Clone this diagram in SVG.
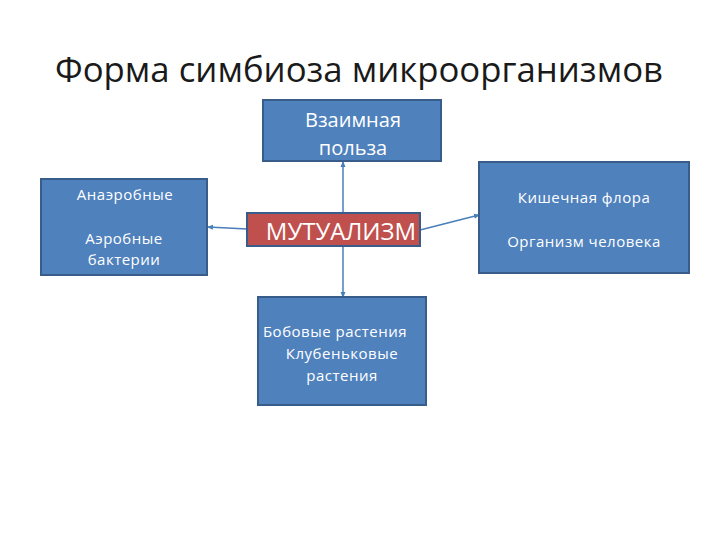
<svg xmlns="http://www.w3.org/2000/svg" width="720" height="540" viewBox="0 0 720 540">
<defs>
<style>
.box{fill:#4F81BD;stroke:#385D8A;stroke-width:2}
.red{fill:#C0504D;stroke:#385D8A;stroke-width:2}
.t{font-family:"Open Sans","Liberation Sans",sans-serif;fill:#fff;text-anchor:middle}
.s{font-size:15px;letter-spacing:0.5px}
.c{stroke:#4A7EBB;stroke-width:1.5;fill:none}
</style>
<marker id="a" markerWidth="6" markerHeight="6" refX="5" refY="3" orient="auto" markerUnits="userSpaceOnUse"><path d="M0,0.5 L6,3 L0,5.5 z" fill="#4A7EBB"/></marker>
</defs>
<rect width="720" height="540" fill="#fff"/>
<text x="359" y="82" font-family="'Open Sans','Liberation Sans',sans-serif" font-size="34" fill="#1a1a1a" text-anchor="middle" textLength="608" lengthAdjust="spacingAndGlyphs">Форма симбиоза микроорганизмов</text>
<g id="connectors">
<line class="c" x1="343" y1="213" x2="343" y2="162" marker-end="url(#a)"/>
<line class="c" x1="343" y1="246" x2="343" y2="297" marker-end="url(#a)"/>
<line class="c" x1="247" y1="229" x2="208" y2="227" marker-end="url(#a)"/>
<line class="c" x1="420" y1="230" x2="479" y2="215" marker-end="url(#a)"/>
</g>
<g id="benefit">
<rect class="box" x="263" y="100" width="178" height="61"/>
<text class="t" x="353" y="127" font-size="20">Взаимная</text>
<text class="t" x="353" y="155" font-size="20">польза</text>
</g>
<g id="bacteria">
<rect class="box" x="41" y="179" width="166" height="96"/>
<text class="t s" x="125" y="200">Анаэробные</text>
<text class="t s" x="124" y="244">Аэробные</text>
<text class="t s" x="124" y="265">бактерии</text>
</g>
<g id="mutualism">
<rect class="red" x="247" y="213" width="173" height="33"/>
<text class="t" x="341" y="240" font-size="24">МУТУАЛИЗМ</text>
</g>
<g id="flora">
<rect class="box" x="479" y="162" width="210" height="111"/>
<text class="t s" x="584" y="203">Кишечная флора</text>
<text class="t s" x="584" y="247">Организм человека</text>
</g>
<g id="plants">
<rect class="box" x="258" y="297" width="168" height="108"/>
<text class="t s" x="335" y="337">Бобовые растения</text>
<text class="t s" x="342" y="359">Клубеньковые</text>
<text class="t s" x="342" y="381">растения</text>
</g>
</svg>
